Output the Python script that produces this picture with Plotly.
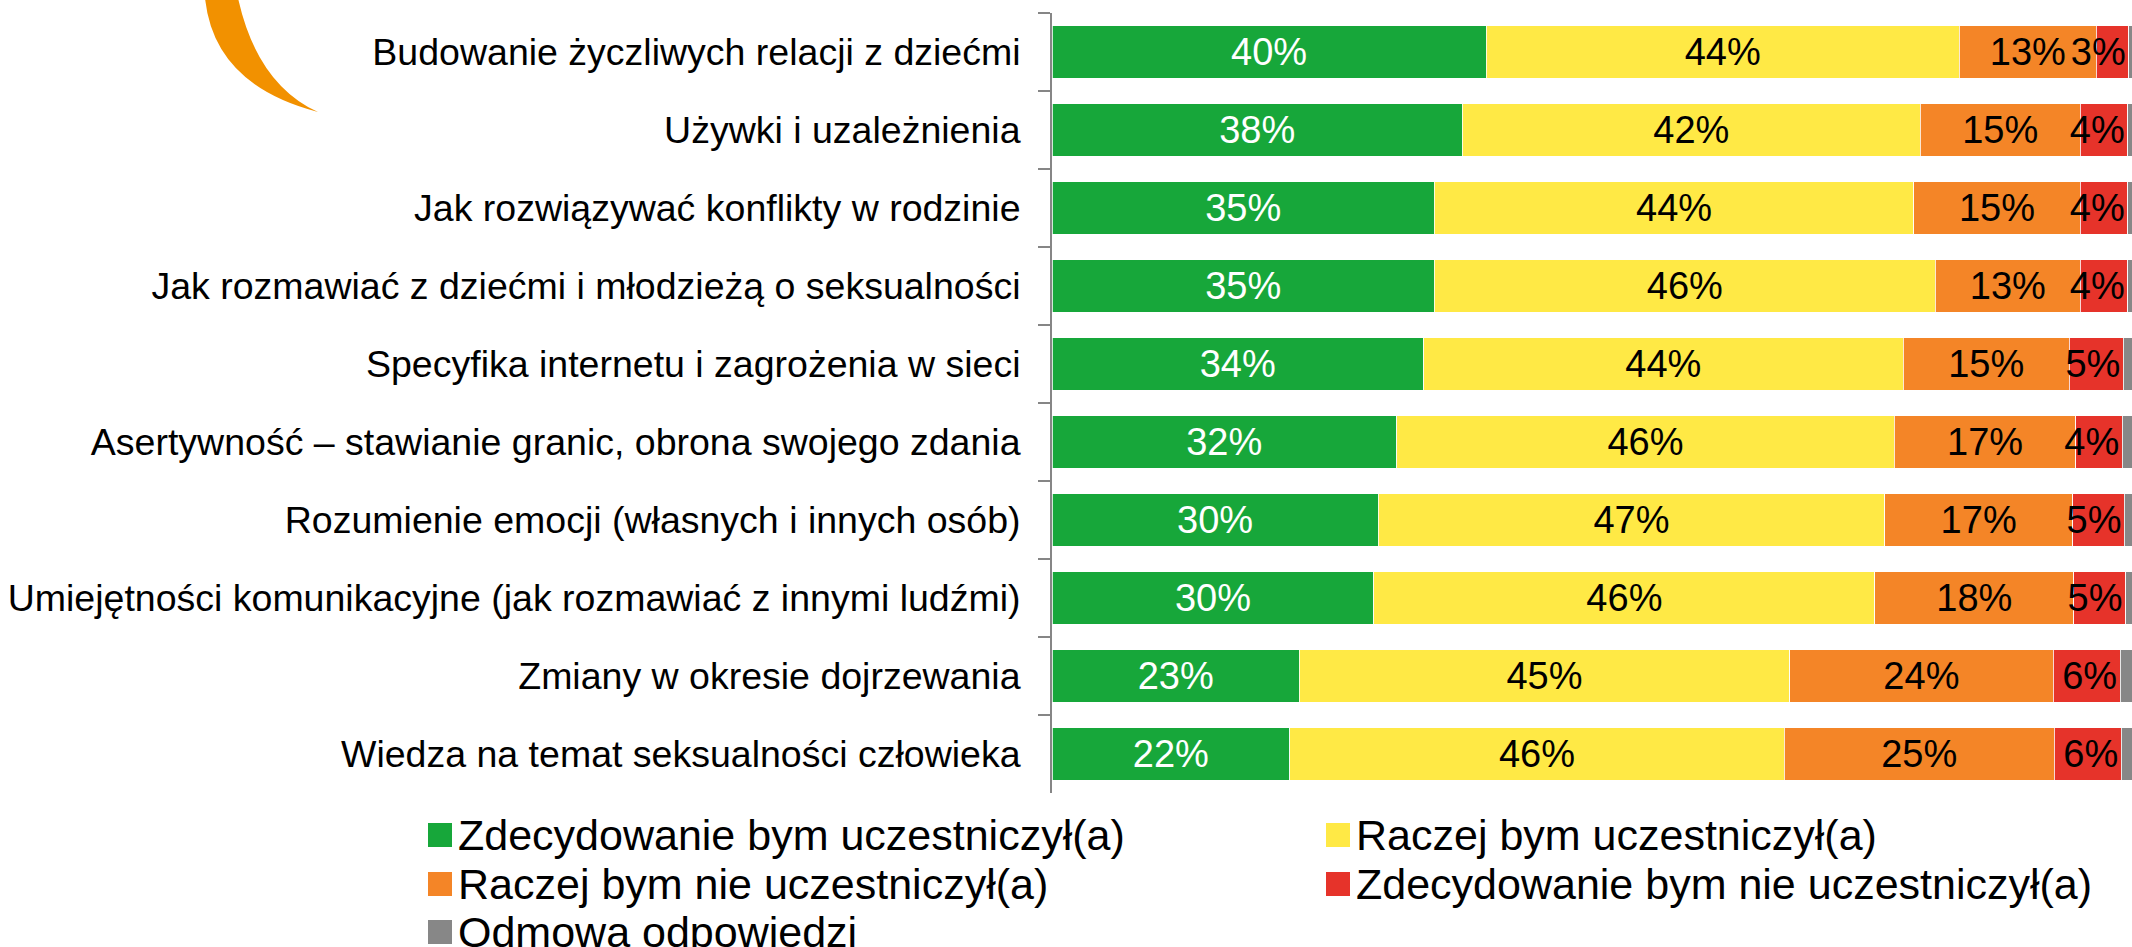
import plotly.graph_objects as go

#-------------------------------------------------------------------------------
#   Data: share of answers (%) per workshop topic
#-------------------------------------------------------------------------------
categories = [
    'Budowanie życzliwych relacji z dziećmi',
    'Używki i uzależnienia',
    'Jak rozwiązywać konflikty w rodzinie',
    'Jak rozmawiać z dziećmi i młodzieżą o seksualności',
    'Specyfika internetu i zagrożenia w sieci',
    'Asertywność – stawianie granic, obrona swojego zdania',
    'Rozumienie emocji (własnych i innych osób)',
    'Umiejętności komunikacyjne (jak rozmawiać z innymi ludźmi)',
    'Zmiany w okresie dojrzewania',
    'Wiedza na temat seksualności człowieka',
]
zdecydowanie_tak = [40.2, 38.0, 35.4, 35.4, 34.4, 31.9, 30.2, 29.8, 22.9, 22.0]
raczej_tak = [43.8, 42.4, 44.4, 46.4, 44.4, 46.1, 46.9, 46.4, 45.4, 45.8]
raczej_nie = [12.7, 14.8, 15.4, 13.4, 15.4, 16.8, 17.4, 18.4, 24.4, 25.0]
zdecydowanie_nie = [3.0, 4.4, 4.4, 4.4, 5.0, 4.3, 4.8, 4.8, 6.2, 6.2]
odmowa = [0.3, 0.4, 0.4, 0.4, 0.8, 0.9, 0.7, 0.6, 1.1, 1.0]

series_names = [
    'Zdecydowanie bym uczestniczył(a)',
    'Raczej bym uczestniczył(a)',
    'Raczej bym nie uczestniczył(a)',
    'Zdecydowanie bym nie uczestniczył(a)',
    'Odmowa odpowiedzi',
]
series_values = [zdecydowanie_tak, raczej_tak, raczej_nie, zdecydowanie_nie, odmowa]
colors = ['#17A73A', '#FFE945', '#F48527', '#E6332A', '#878787']
text_colors = ['white', 'black', 'black', 'black', 'black']
# narrow red segments: keep labels inside the chart by anchoring to bar end
text_anchors = ['middle', 'middle', 'middle', 'end', 'middle']

#-------------------------------------------------------------------------------
#   Page geometry (pixels); body margin is removed in the html so the figure
#   fills the page exactly
#-------------------------------------------------------------------------------
W, H = 2132, 947
L, R, T, B = 1052, 0, 13, 154
FONT = 'Liberation Sans, Arial, sans-serif'


def px(x):
    # page x -> paper x
    return (x - L) / (W - L - R)


def py(y):
    # page y -> paper y
    return (H - B - y) / (H - B - T)


fig = go.Figure()
for name, vals, col, tcol, anchor in zip(series_names, series_values, colors,
                                         text_colors, text_anchors):
    show_text = name != 'Odmowa odpowiedzi'
    fig.add_trace(go.Bar(
        y=categories, x=vals, name=name, orientation='h',
        marker=dict(color=col, line=dict(color='rgba(255,255,255,0.8)', width=1)),
        texttemplate='%{x:.0f}%' if show_text else None,
        textposition='inside' if show_text else 'none',
        insidetextanchor=anchor, textangle=0,
        textfont=dict(family=FONT, size=38, color=tcol),
        cliponaxis=False,
        showlegend=False,
    ))

#-------------------------------------------------------------------------------
#   Legend drawn by hand (two columns, large square swatches)
#-------------------------------------------------------------------------------
legend_pos = [(428, 835), (1326, 835), (428, 884), (1326, 884), (428, 932)]
shapes = []
annotations = []
for (lx, ly), name, col in zip(legend_pos, series_names, colors):
    shapes.append(dict(
        type='rect', xref='paper', yref='paper',
        x0=px(lx), x1=px(lx + 24), y0=py(ly + 12), y1=py(ly - 12),
        fillcolor=col, line=dict(width=0),
    ))
    annotations.append(dict(
        xref='paper', yref='paper', x=px(lx + 28), y=py(ly),
        xanchor='left', yanchor='middle', showarrow=False, text=name,
        font=dict(family=FONT, size=43, color='black'),
    ))

# orange crescent fragment at top-left
arc = (
    f'M {px(205)},{py(-2)} '
    f'Q {px(214)},{py(85)} {px(318)},{py(112)} '
    f'Q {px(257)},{py(84)} {px(238)},{py(-2)} Z'
)
shapes.append(dict(
    type='path', xref='paper', yref='paper', path=arc,
    fillcolor='#F29100', line=dict(width=0),
))

fig.update_layout(
    width=W, height=H,
    margin=dict(l=L, r=R, t=T, b=B, pad=0),
    barmode='stack', bargap=0.33,
    plot_bgcolor='white', paper_bgcolor='white',
    uniformtext=dict(minsize=38, mode='show'),
    xaxis=dict(range=[0, 100], visible=False, fixedrange=True),
    yaxis=dict(
        autorange='reversed', showline=True, linecolor='#868686', linewidth=2,
        ticks='outside', ticklen=12, tickcolor='#868686', tickwidth=2,
        tickson='boundaries', ticklabelstandoff=22,
        tickfont=dict(family=FONT, size=37.5, color='black'),
        showgrid=False,
    ),
    shapes=shapes,
    annotations=annotations,
)

fig.write_html(
    'out.html',
    config={'displayModeBar': False},
    post_script="document.body.style.margin='0';document.body.style.overflow='hidden';",
)
